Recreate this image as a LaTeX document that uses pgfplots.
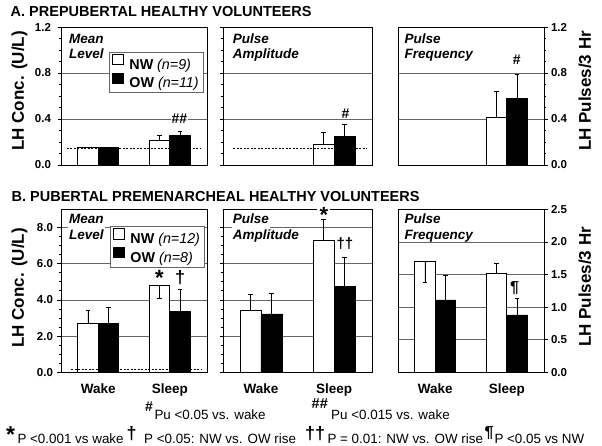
\documentclass[border=0pt]{standalone}
\usepackage{fontspec}
\setmainfont{Liberation Sans}
\usepackage{pgfplots}
\pgfplotsset{compat=1.18}
\newcommand{\fs}[1]{\fontsize{#1}{#1}\selectfont}
\pgfplotsset{
  panel/.style={
    scale only axis, clip=false,
    xmin=0.48, xmax=2.52, ymin=0,
    axis line style={black, line width=0.8pt},
    ymajorgrids, grid style={black!60, line width=0.6pt},
    tick style={black, line width=0.6pt},
    tick align=outside,
    major tick length=3.5pt, minor tick length=2pt,
    xtick=\empty,
    /pgf/number format/.cd, fixed, fixed zerofill, precision=1, assume math mode=true, /pgfplots/.cd,
    yticklabel style={font=\bfseries\fs{11.5}},
    legend image code/.code={\draw[##1, draw=black, line width=0.6pt] (0pt,0pt) rectangle (10.5pt,10.5pt);\path (15pt,0pt);},
  },
  toprow/.style={panel, width=146pt, height=138pt, ymax=1.2, ytick={0,0.4,0.8,1.2}, minor y tick num=3},
  botrow/.style={panel, width=146pt, height=163pt,
    xtick={1,2}, xticklabels={Wake,Sleep}, xtick style={draw=none},
    xticklabel style={font=\bfseries\fs{13.5}, yshift=-4pt}},
  % NW bars drawn at group position - 0.143, OW bars at group position + 0.143
  nw/.style={ybar, bar width=0.286, bar shift=0, fill=white, draw=black, line width=0.6pt,
    error bars/.cd, y dir=both, y explicit, error bar style={black, line width=0.6pt},
    error mark options={rotate=90, mark size=2.2pt, black, line width=0.6pt}},
  ow/.style={ybar, bar width=0.286, bar shift=0, fill=black, draw=black, line width=0.6pt,
    error bars/.cd, y dir=both, y explicit, error bar style={black, line width=0.6pt},
    error mark options={rotate=90, mark size=2.2pt, black, line width=0.6pt}},
  lod/.style={black, line width=0.5pt, dash pattern=on 2pt off 1.5pt, forget plot},
  leg/.style={legend style={anchor=north west, draw=black!60, line width=0.6pt, fill=white,
    font=\fs{14.3}, inner xsep=3pt, inner ysep=1.5pt, row sep=0pt,
    nodes={inner ysep=2pt, inner xsep=1.5pt}}, legend cell align=left},
}
\tikzset{
  plab/.style={anchor=base west, font=\bfseries\itshape\fs{13.5}, inner sep=1pt},
  ann/.style={anchor=base, font=\bfseries\fs{#1}, inner sep=1pt},
  foot/.style={anchor=base west, inner sep=0pt, font=\fs{13.4}},
  fsym/.style={anchor=base west, inner sep=0pt, font=\bfseries\fs{#1}},
}
\begin{document}
\begin{tikzpicture}
\path[use as bounding box] (0pt,0pt) rectangle (602pt,446pt);
% ---------- A row ----------
\begin{axis}[toprow, at={(61pt,281pt)}, anchor=south west, ytick pos=left,
  yticklabel style={xshift=-3pt}, leg, legend style={at={(0.329,0.819)}}]
\addplot[nw] coordinates {(0.857,0.150) += (0,0.006) -= (0,0) (1.857,0.215) += (0,0.040) -= (0,0)};
\addlegendentry{\textbf{NW} \textit{(n=9)}}
\addplot[ow] coordinates {(1.143,0.150) += (0,0.005) -= (0,0) (2.143,0.255) += (0,0.041) -= (0,0)};
\addlegendentry{\textbf{OW} \textit{(n=11)}}
\addplot[lod] coordinates {(0.56,0.147) (2.44,0.147)};
\node[ann=14, fill=white] at (axis cs:2.135,0.363) {\#\#};
\end{axis}
\begin{axis}[toprow, at={(223pt,281pt)}, anchor=south west, width=149pt, ytick pos=left, yticklabels={}]
\addplot[nw] coordinates {(1.857,0.180) += (0,0.100) -= (0,0)};
\addplot[ow] coordinates {(2.143,0.246) += (0,0.104) -= (0,0)};
\addplot[lod] coordinates {(0.62,0.147) (2.45,0.147)};
\node[ann=14, fill=white] at (axis cs:2.157,0.406) {\#};
\end{axis}
\begin{axis}[toprow, at={(398pt,281pt)}, anchor=south west, ytick pos=right, yticklabel pos=right]
\addplot[nw] coordinates {(1.857,0.415) += (0,0.228) -= (0,0)};
\addplot[ow] coordinates {(2.143,0.577) += (0,0.213) -= (0,0)};
\node[ann=14] at (axis cs:2.138,0.87) {\#};
\end{axis}
% ---------- B row ----------
\begin{axis}[botrow, at={(61pt,73.7pt)}, anchor=south west, ymax=9, ytick={0,2,...,8}, minor y tick num=3,
  ytick pos=left, yticklabel style={xshift=-1pt}, leg, legend style={at={(0.336,0.896)}}]
\addplot[nw] coordinates {(0.857,2.69) += (0,0.71) -= (0,0) (1.857,4.81) += (0,0) -= (0,0.74)};
\addlegendentry{\textbf{NW} \textit{(n=12)}}
\addplot[ow] coordinates {(1.143,2.69) += (0,0.88) -= (0,0) (2.143,3.35) += (0,1.21) -= (0,0)};
\addlegendentry{\textbf{OW} \textit{(n=8)}}
\addplot[lod] coordinates {(0.62,0.16) (2.44,0.16)};
\node[ann=22] at (axis cs:1.854,4.8) {*};
\node[ann=18] at (axis cs:2.145,4.93) {†};
\end{axis}
\begin{axis}[botrow, at={(223pt,73.7pt)}, anchor=south west, width=149pt, ymax=9, ytick={0,2,...,8}, minor y tick num=3,
  ytick pos=left, yticklabels={}]
\addplot[nw] coordinates {(0.857,3.42) += (0,0.88) -= (0,0) (1.857,7.31) += (0,1.15) -= (0,0)};
\addplot[ow] coordinates {(1.143,3.22) += (0,1.14) -= (0,0) (2.143,4.74) += (0,1.61) -= (0,0)};
\node[fill=white, inner sep=0pt, minimum width=13pt, minimum height=3pt] at (axis cs:1.86,9) {};
\node[ann=22] at (axis cs:1.86,8.27) {*};
\node[ann=15] at (axis cs:2.15,6.83) {††};
\end{axis}
\begin{axis}[botrow, at={(398pt,73.7pt)}, anchor=south west, ymax=2.5, ytick={0,0.5,...,2.5},
  ytick pos=right, yticklabel pos=right]
\addplot[nw] coordinates {(0.857,1.71) += (0,0) -= (0,0.33) (1.857,1.52) += (0,0.15) -= (0,0)};
\addplot[ow] coordinates {(1.143,1.11) += (0,0.38) -= (0,0) (2.143,0.88) += (0,0.25) -= (0,0)};
\node[ann=16] at (axis cs:2.11,1.23) {¶};
\end{axis}
% ---------- panel labels ----------
\node[plab, fill=white, text depth=4pt] at (68pt,402pt) {Mean};
\node[plab] at (68pt,387pt) {Level};
\node[plab, fill=white, text depth=4pt] at (231.7pt,402pt) {Pulse};
\node[plab] at (231.7pt,387pt) {Amplitude};
\node[plab, fill=white, text depth=4pt] at (403.3pt,402pt) {Pulse};
\node[plab] at (403.3pt,387pt) {Frequency};
\node[plab, fill=white, text depth=4pt] at (68pt,222pt) {Mean};
\node[plab, fill=white] at (68pt,206.7pt) {Level};
\node[plab, fill=white, text depth=4pt] at (231.7pt,222pt) {Pulse};
\node[plab, fill=white] at (231.7pt,206.7pt) {Amplitude};
\node[plab, fill=white, text depth=4pt] at (403.3pt,222pt) {Pulse};
\node[plab] at (403.3pt,206.7pt) {Frequency};
% ---------- titles and axis labels ----------
\node[anchor=base west, inner sep=0pt, font=\bfseries\fs{14.5}] at (10.5pt,429.3pt) {A. PREPUBERTAL HEALTHY VOLUNTEERS};
\node[anchor=base west, inner sep=0pt, font=\bfseries\fs{14.5}] at (11.5pt,244pt) {B. PUBERTAL PREMENARCHEAL HEALTHY VOLUNTEERS};
\node[rotate=90, inner sep=0pt, font=\bfseries\fs{17}] at (19.5pt,355pt) {LH Conc. (U/L)};
\node[rotate=90, inner sep=0pt, font=\bfseries\fs{17}] at (19.5pt,158pt) {LH Conc. (U/L)};
\node[rotate=90, inner sep=0pt, font=\bfseries\fs{17}] at (585pt,355pt) {LH Pulses/3 Hr};
\node[rotate=90, inner sep=0pt, font=\bfseries\fs{17}] at (585pt,159pt) {LH Pulses/3 Hr};
% ---------- footnotes ----------
\node[fsym=14] at (145pt,34.3pt) {\#};
\node[foot] at (154.3pt,26pt) {Pu <0.05 vs. wake};
\node[fsym=14.5] at (311.5pt,37.7pt) {\#\#};
\node[foot] at (331pt,26pt) {Pu <0.015 vs. wake};
\node[fsym=23] at (6pt,3.5pt) {*};
\node[foot] at (17.3pt,2.9pt) {P <0.001 vs wake};
\node[fsym=18] at (126.5pt,6.8pt) {†};
\node[foot] at (144pt,2.9pt) {P <0.05: NW vs. OW rise};
\node[fsym=18] at (305pt,6.8pt) {††};
\node[foot] at (327.3pt,2.9pt) {P = 0.01: NW vs. OW rise};
\node[fsym=16] at (484.5pt,8pt) {¶};
\node[foot] at (494.3pt,2.9pt) {P <0.05 vs NW};
\end{tikzpicture}
\end{document}
